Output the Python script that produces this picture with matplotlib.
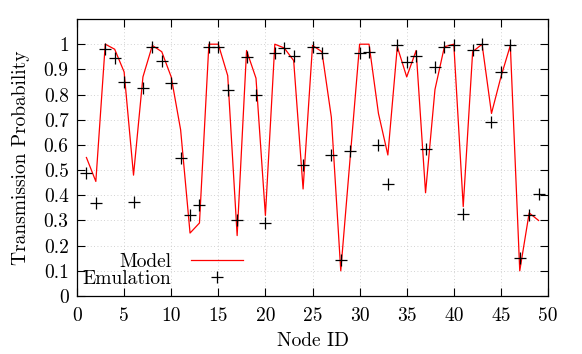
#!/usr/bin/env python3
# -*- coding: utf-8 -*-
"""
Transmission probability per node: model vs emulation
"""

import numpy as np
import matplotlib
matplotlib.use('Agg')
import matplotlib.pyplot as plt

# Node IDs 1..49
node_ids = list(range(1, 50))

# Model (red line)
model = [0.55, 0.455, 1.0, 0.98, 0.89, 0.48, 0.87, 0.995, 0.97, 0.87,
         0.66, 0.25, 0.29, 1.0, 1.0, 0.875, 0.24, 0.975, 0.865, 0.32,
         1.0, 0.985, 0.935, 0.425, 0.995, 0.97, 0.71, 0.10, 0.55, 1.0,
         1.0, 0.725, 0.56, 0.99, 0.87, 0.975, 0.41, 0.82, 0.99, 1.0,
         0.355, 0.97, 1.0, 0.725, 0.87, 0.995, 0.10, 0.33, 0.30]

# Emulation (black crosses)
emulation = [0.49, 0.37, 0.98, 0.945, 0.85, 0.375, 0.825, 0.99, 0.935, 0.845,
             0.55, 0.32, 0.36, 0.99, 0.99, 0.82, 0.30, 0.95, 0.80, 0.29,
             0.965, 0.985, 0.955, 0.52, 0.99, 0.965, 0.56, 0.145, 0.575, 0.965,
             0.97, 0.60, 0.445, 0.995, 0.93, 0.955, 0.585, 0.91, 0.99, 0.995,
             0.325, 0.975, 1.0, 0.69, 0.89, 0.995, 0.15, 0.32, 0.405]

x_ticks = [0, 5, 10, 15, 20, 25, 30, 35, 40, 45, 50]
y_ticks = [0, 0.1, 0.2, 0.3, 0.4, 0.5, 0.6, 0.7, 0.8, 0.9, 1]
y_tick_labels = ['0', '0.1', '0.2', '0.3', '0.4', '0.5', '0.6', '0.7', '0.8', '0.9', '1']


def plot_chart(output_filename):
    plt.rcParams['font.family'] = 'cmr10'
    plt.rcParams['axes.formatter.use_mathtext'] = True
    plt.rcParams['font.size'] = 14

    fig = plt.figure(figsize=(5.82, 3.54), dpi=100)
    ax = fig.add_axes([0.1323, 0.1638, 0.8093, 0.7825])

    ax.plot(node_ids, model, '-', color='#ff0000', linewidth=0.9, label='Model')
    ax.plot(node_ids, emulation, '+', color='black', markersize=9,
            markeredgewidth=0.9, linestyle='none', label='Emulation')

    ax.set_xlim(0, 50)
    ax.set_ylim(0, 1.1)
    ax.set_xticks(x_ticks)
    ax.set_xticklabels([str(v) for v in x_ticks])
    ax.set_yticks(y_ticks)
    ax.set_yticklabels(y_tick_labels)

    # gnuplot-like: inward ticks mirrored on all sides
    ax.tick_params(direction='in', length=6, width=0.8, top=True, right=True,
                   labelsize=14)
    ax.tick_params(axis='x', pad=8)
    ax.tick_params(axis='y', pad=6)
    ax.grid(True, linestyle=(0, (1, 3)), color='#c4c4c4', linewidth=0.6)
    for spine in ax.spines.values():
        spine.set_linewidth(0.9)

    ax.set_xlabel('Node ID', fontsize=14, labelpad=5)
    ax.set_ylabel('Transmission Probability', fontsize=14, labelpad=10)

    ax.legend(loc='lower left', bbox_to_anchor=(0.012, 0.03), frameon=False,
              markerfirst=False, handlelength=2.7, handletextpad=1.0,
              labelspacing=-0.05, borderpad=0, borderaxespad=0, fontsize=14)

    fig.savefig(output_filename, dpi=100)
    plt.close(fig)


def main():
    plot_chart('out.png')


if __name__ == "__main__":
    main()
